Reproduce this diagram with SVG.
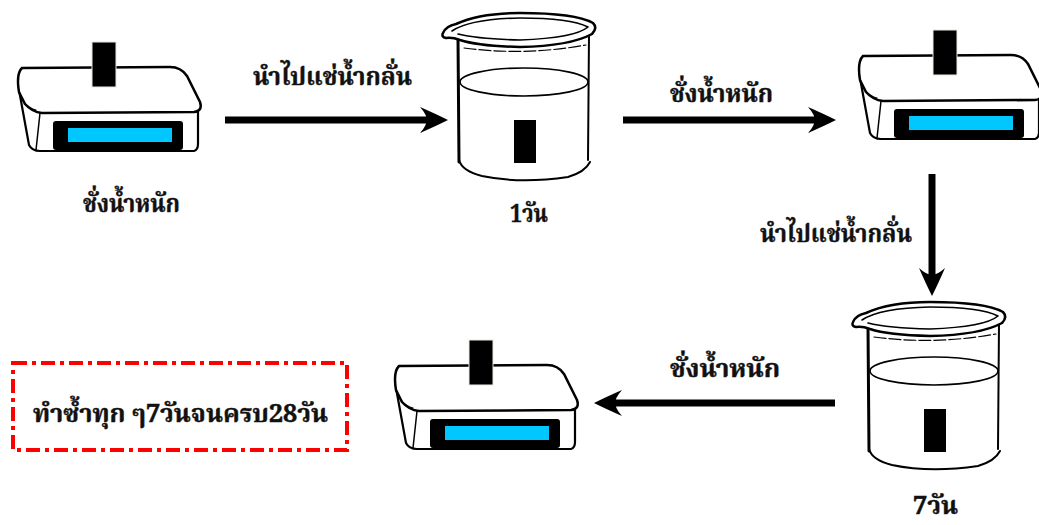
<svg xmlns="http://www.w3.org/2000/svg" xmlns:xlink="http://www.w3.org/1999/xlink" width="1039" height="525" viewBox="0 0 1039 525">
  <style>
    .ink { fill: none; stroke: #000; stroke-linecap: round; stroke-linejoin: round; }
    .lbl { font-family: "Noto Serif Thai", "Noto Sans Thai", "Norasi", "Garuda", "Loma", "DejaVu Sans", serif; font-weight: bold; font-size: 25px; fill: #111; stroke: #111; stroke-width: 0.4; }
    .flow { fill: none; stroke: #000; stroke-width: 7; }
    .note { fill: none; stroke: #ff0000; stroke-width: 4; stroke-dasharray: 14 5 4 5; }
  </style>
  <defs>
    <marker id="head" markerUnits="userSpaceOnUse" viewBox="-14 -15 31 30" refX="0" refY="0" markerWidth="31" markerHeight="30" orient="auto">
      <path d="M16,0 Q4,-6 -12,-13 Q-4,-4 -6,0 Q-4,4 -12,13 Q4,6 16,0 z" fill="#000"/>
    </marker>

    <!-- bench scale with a sample block on the pan -->
    <g id="scale-shape">
      <!-- base -->
      <path d="M19,90 L29,145 Q32,151 40,151 L194,151 Q198,150 198,144 L198,112" fill="#fff" stroke="#000" stroke-width="2.2" stroke-linejoin="round"/>
      <path class="ink" stroke-width="1.5" d="M40,113 L36,150"/>
      <!-- pan -->
      <path d="M22,68 L170,67 Q181,67 187,76 L200,102 Q203,111 194,112 L42,113 Q32,112 25,104 L19,92 Q16,74 22,68 z" fill="#fff" stroke="#000" stroke-width="2.5"/>
      <path class="ink" stroke-width="1.2" d="M19,90 Q22,106 36,110"/>
      <!-- display -->
      <rect x="53" y="121" width="130" height="29" rx="3" fill="#000"/>
      <rect x="68" y="128" width="104" height="14" fill="#00c8ff"/>
      <!-- sample -->
      <rect x="92" y="42" width="24" height="45" fill="#000" stroke="#ece8dc" stroke-width="1"/>
    </g>

    <!-- beaker of distilled water holding a sample -->
    <g id="beaker-shape">
      <path d="M458,36 L459,162 Q462,171 482,176 Q520,184 568,177 Q585,172 589,162 L589,32" fill="#fff" stroke="none"/>
      <path class="ink" stroke-width="3" d="M458,38 L459,162"/>
      <path class="ink" stroke-width="2" d="M589,34 L588,160"/>
      <path class="ink" stroke-width="2" d="M459,160 Q462,171 482,176 Q520,184 568,177 Q585,172 590,162"/>
      <!-- rim with pouring lip -->
      <path d="M443,33 Q446,26 456,24 Q480,13 520,13 Q575,13 593,23 Q598,28 592,34 Q570,46 520,47 Q478,46 460,40 Q452,37 446,38 Q441,37 443,33 z" fill="#fff" stroke="#000" stroke-width="2.5"/>
      <path class="ink" stroke-width="1.6" d="M452,31 Q470,19 520,18 Q570,18 588,27 Q575,38 520,40 Q478,39 458,34"/>
      <path class="ink" stroke="#333" stroke-width="1.2" stroke-dasharray="12 3" d="M464,48 Q525,56 586,45"/>
      <ellipse cx="524" cy="82" rx="64" ry="14" fill="none" stroke="#000" stroke-width="1.6"/>
      <rect x="514" y="120" width="22" height="43" fill="#000"/>
    </g>
  </defs>

  <rect width="1039" height="525" fill="#fff"/>

  <!-- process steps -->
  <g id="scale-start">
    <use xlink:href="#scale-shape"/>
    <text class="lbl" x="83" y="212" textLength="97" lengthAdjust="spacingAndGlyphs">ชั่งน้ำหนัก</text>
  </g>

  <g id="beaker-day1">
    <use xlink:href="#beaker-shape"/>
    <text class="lbl" x="510" y="222" textLength="38" lengthAdjust="spacingAndGlyphs">1วัน</text>
  </g>

  <g id="scale-day1">
    <use xlink:href="#scale-shape" transform="translate(841,-12)"/>
  </g>

  <g id="beaker-day7">
    <use xlink:href="#beaker-shape" transform="translate(410,289)"/>
    <text class="lbl" x="913" y="514" textLength="45" lengthAdjust="spacingAndGlyphs">7วัน</text>
  </g>

  <g id="scale-day7">
    <use xlink:href="#scale-shape" transform="translate(377,298)"/>
  </g>

  <g id="repeat-note">
    <rect class="note" x="13" y="363" width="334" height="87"/>
    <text class="lbl" x="33" y="422" textLength="295" lengthAdjust="spacingAndGlyphs">ทำซ้ำทุก ๆ7วันจนครบ28วัน</text>
  </g>

  <!-- connectors -->
  <g id="connectors">
    <path class="flow" d="M225,120 H432" marker-end="url(#head)"/>
    <text class="lbl" x="253" y="85" textLength="159" lengthAdjust="spacingAndGlyphs">นำไปแช่น้ำกลั่น</text>

    <path class="flow" d="M623,120 H820" marker-end="url(#head)"/>
    <text class="lbl" x="670" y="102" textLength="103" lengthAdjust="spacingAndGlyphs">ชั่งน้ำหนัก</text>

    <path class="flow" d="M932,174 V280" marker-end="url(#head)"/>
    <text class="lbl" x="760" y="242" textLength="152" lengthAdjust="spacingAndGlyphs">นำไปแช่น้ำกลั่น</text>

    <path class="flow" d="M835,403 H610" marker-end="url(#head)"/>
    <text class="lbl" x="670" y="377" textLength="110" lengthAdjust="spacingAndGlyphs">ชั่งน้ำหนัก</text>
  </g>
</svg>
